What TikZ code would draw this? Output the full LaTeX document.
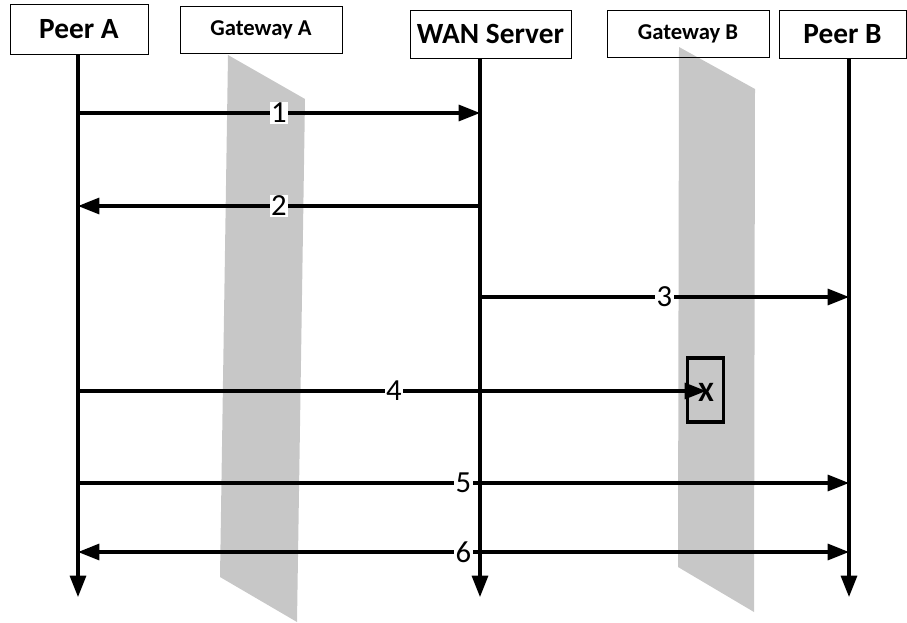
\documentclass[tikz,border=0pt]{standalone}
\usepackage{fontspec}
\setmainfont{Carlito}
\usepackage{xcolor}
\usepackage{tikz}
\usetikzlibrary{arrows.meta,calc}
\definecolor{bandgray}{RGB}{199,199,199}

\begin{document}
\begin{tikzpicture}[x=0.75pt, y=-0.75pt,
    head/.style={draw, thin, inner sep=0pt, font=\bfseries},
    life/.style={line width=2.3pt, -{Triangle[length=16pt,width=12pt]}},
    msg/.style={line width=2.3pt, -{Triangle[length=16pt,width=12pt]}},
    num/.style={fill=white, inner sep=1pt, font=\fontsize{23}{23}\selectfont}]
    \useasboundingbox (0,0) rectangle (907,622);

    % gateways (grey bands)
    \fill[bandgray] (228,55) -- (305,99) -- (297,622) -- (220,577) -- cycle;
    \fill[bandgray] (679,47) -- (755,89) -- (754,612) -- (678,567) -- cycle;

    % headers
    \node[head, minimum width=103.5pt, minimum height=37.5pt, font=\bfseries\fontsize{22}{22}\selectfont] (peerA) at (79,29) {Peer A};
    \node[head, minimum width=121.5pt, minimum height=35.3pt, font=\bfseries\fontsize{17}{17}\selectfont] (gwA) at (261,29.5) {Gateway A};
    \node[head, minimum width=120.8pt, minimum height=36pt, font=\bfseries\fontsize{22}{22}\selectfont] (wan) at (490.5,34) {WAN Server};
    \node[head, minimum width=121.5pt, minimum height=35.3pt, font=\bfseries\fontsize{17}{17}\selectfont] (gwB) at (688,33.5) {Gateway B};
    \node[head, minimum width=95pt, minimum height=36pt, font=\bfseries\fontsize{22}{22}\selectfont] (peerB) at (842.5,34) {Peer B};

    % lifelines
    \coordinate (aTop) at (78,54);
    \coordinate (wTop) at (480,58);
    \coordinate (bTop) at (849,58);
    \coordinate (bottom) at (0,597);
    \draw[life] (aTop) -- (aTop |- bottom);
    \draw[life] (wTop) -- (wTop |- bottom);
    \draw[life] (bTop) -- (bTop |- bottom);

    % rows
    \coordinate (r1) at (0,113);
    \coordinate (r2) at (0,206);
    \coordinate (r3) at (0,297);
    \coordinate (r4) at (0,391);
    \coordinate (r5) at (0,483);
    \coordinate (r6) at (0,552);

    % blocked box
    \node[draw, line width=2.3pt, minimum width=27pt, minimum height=48pt, inner sep=0pt] (block) at (705.5,390) {};
    \node[font=\bfseries\fontsize{21}{21}\selectfont, inner sep=0pt] (cross) at (706,392) {X};
    \coordinate (stop) at (706,391);

    % messages
    \draw[msg] (aTop |- r1) -- (wTop |- r1) node[num, pos=0.5] (n1) {1};
    \draw[msg] (wTop |- r2) -- (aTop |- r2) node[num, pos=0.5] (n2) {2};
    \draw[msg] (wTop |- r3) -- (bTop |- r3) node[num, pos=0.5] (n3) {3};
    \draw[msg] (aTop |- r4) -- (stop) node[num, pos=0.503] (n4) {4};
    \draw[msg] (aTop |- r5) -- (bTop |- r5) node[num, pos=0.5] (n5) {5};
    \draw[msg, {Triangle[length=16pt,width=12pt]}-{Triangle[length=16pt,width=12pt]}] (aTop |- r6) -- (bTop |- r6) node[num, pos=0.5] (n6) {6};
\end{tikzpicture}
\end{document}
